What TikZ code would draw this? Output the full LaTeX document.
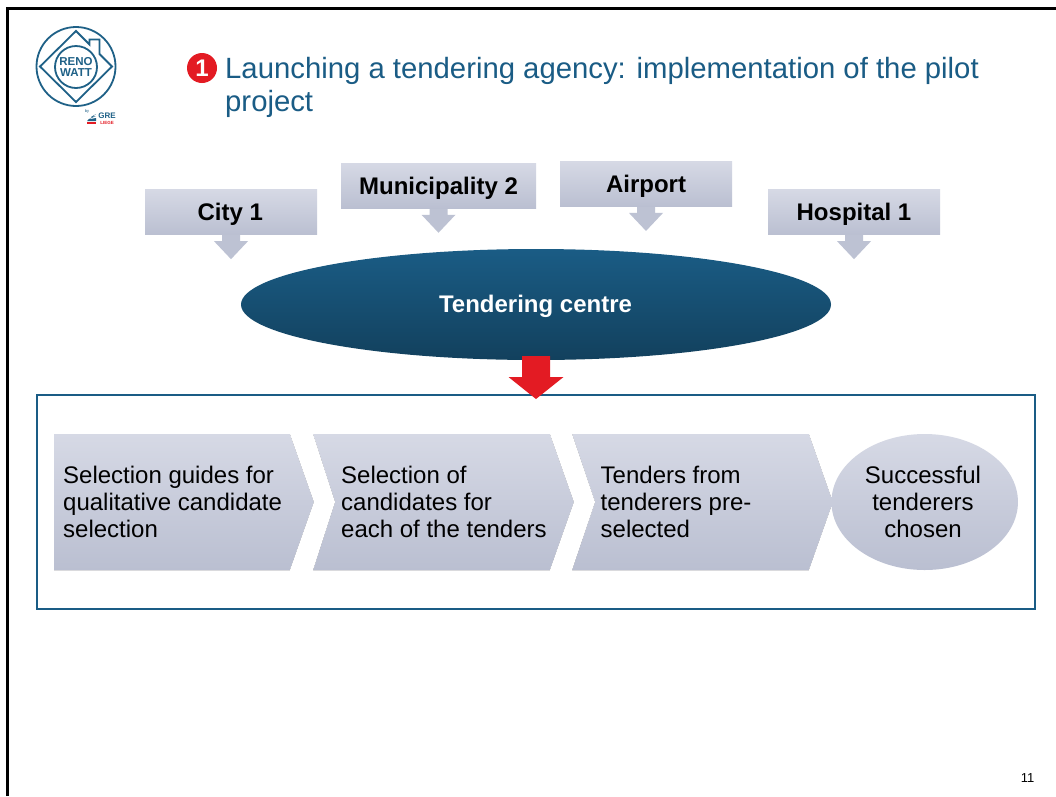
\documentclass[tikz,border=0pt]{standalone}
\usepackage{fontspec}
\setmainfont{Liberation Sans}
\usetikzlibrary{shapes.geometric,calc}
\definecolor{titleblue}{HTML}{1A5C85}
\definecolor{logoblue}{HTML}{1F6187}
\definecolor{redmark}{HTML}{E31B23}
\definecolor{greytop}{HTML}{D6D9E5}
\definecolor{greybot}{HTML}{BABFD1}
\tikzset{
  x=1pt,y=-1pt,
  softfill/.style={top color=greytop,bottom color=greybot,draw=none,shading angle=0},
  labelbox/.style={softfill,rectangle,inner sep=0pt,minimum width=172pt,minimum height=45.5pt},
  labeltext/.style={inner sep=0pt,font=\bfseries\fontsize{24}{27}\selectfont},
  softarrow/.style={fill=greybot!90!greytop,draw=none},
  bodytext/.style={inner sep=0pt,align=left,anchor=west,font=\fontsize{24}{27}\selectfont},
  logoline/.style={draw=logoblue,line width=1.8pt},
}
\begin{document}
\begin{tikzpicture}
\useasboundingbox (0,0) rectangle (1056,796);
\fill[white] (0,0) rectangle (1056,796);
% slide border
\draw[line width=2.6pt,black] (7.2,796) -- (7.2,8.6) -- (1056,8.6);
% logo
\node[circle,logoline,minimum size=79pt,inner sep=0pt] (logoouter) at (76,66.5) {};
\draw[logoline,line join=miter] (40,66.5) -- (76,31) -- (89.5,44.5) -- (89.5,39.5) -- (99.5,39.5) -- (99.5,54) -- (112,66.5) -- (76,102) -- cycle;
\node[circle,logoline,minimum size=42pt,inner sep=0pt] (logoinner) at (76,67) {};
\node[inner sep=0pt,align=center,text=logoblue,font=\bfseries\fontsize{11.5}{11.5}\selectfont] (logotext) at (76,67) {RENO\\WATT};
\node[inner sep=0pt,text=logoblue,font=\fontsize{4}{4}\selectfont] (logoby) at (87,111.5) {by};
\node[inner sep=0pt,text=logoblue,font=\bfseries\fontsize{8}{8}\selectfont] (logogre) at (107,116) {GRE};
\node[inner sep=0pt,text=redmark,font=\bfseries\fontsize{4.5}{5}\selectfont] (logoliege) at (107,122.5) {LIEGE};
\fill[redmark] (86.5,122) rectangle (96,124);
\fill[logoblue] (96,114) -- (91,117) -- (96,116) -- (88,119.5) -- (96,118) -- (96,121) -- (87,121) -- cycle;
% title
\node[circle,fill=redmark,minimum size=30pt,inner sep=0pt,text=white,font=\bfseries\fontsize{24}{24}\selectfont] (bullet) at (202,68) {1};
\node[inner sep=0pt,align=left,anchor=north west,text=titleblue,font=\fontsize{29.3}{33}\selectfont] (title) at (225,57.5) {Launching a tendering agency: implementation of the pilot\\project};
% partner boxes
\node[labelbox] (city) at (231,212.2) {};
\node[labelbox,minimum width=195pt] (muni) at (438.5,185.8) {};
\node[labelbox] (airport) at (646,184) {};
\node[labelbox] (hospital) at (854,212.2) {};
\node[labeltext] (citylabel) at (230.3,214.5) {City 1};
\node[labeltext] (munilabel) at (438.5,188.5) {Municipality 2};
\node[labeltext] (airportlabel) at (646,186.5) {Airport};
\node[labeltext] (hospitallabel) at (854,214.5) {Hospital 1};
\foreach \n in {city,muni,airport,hospital}{
  \fill[softarrow] ($(\n.south)+(-9,0)$) -- ++(0,6) -- ++(-8,0) -- ($(\n.south)+(0,24)$) -- ($(\n.south)+(17,6)$) -- ++(-8,0) -- ($(\n.south)+(9,0)$) -- cycle;
}
% centre
\node[ellipse,inner sep=0pt,minimum width=590pt,minimum height=111pt,top color=titleblue,bottom color=titleblue!70!black,draw=none] (centre) at (536,304.5) {};
\node[labeltext,text=white] (centrelabel) at (535.5,306.5) {Tendering centre};
% process frame
\node[draw=titleblue,line width=2pt,rectangle,inner sep=0pt,minimum width=998pt,minimum height=214pt] (frame) at (535.7,502) {};
% red arrow
\coordinate (redtip) at (536,399);
\fill[redmark] (522,356) -- (550,356) -- (550,377) -- (563.5,377) -- (redtip) -- (508.5,377) -- (522,377) -- cycle;
% chevrons
\fill[softfill] (54,434) -- (290,434) -- (314,502) -- (290,570) -- (54,570) -- cycle;
\fill[softfill] (313,434) -- (550,434) -- (574,502) -- (550,570) -- (313,570) -- (335,502) -- cycle;
\fill[softfill] (572,434) -- (809,434) -- (833,502) -- (809,570) -- (572,570) -- (595,502) -- cycle;
% clean gaps between the chevrons
\fill[white] (290,433) -- (313,433) -- (313,434) -- (335,502) -- (313,570) -- (313,571) -- (290,571) -- (290,570) -- (314,502) -- (290,434) -- cycle;
\fill[white] (550,433) -- (572,433) -- (572,434) -- (595,502) -- (572,570) -- (572,571) -- (550,571) -- (550,570) -- (574,502) -- (550,434) -- cycle;
\fill[white] (809,433) -- (836,433) -- (836,571) -- (809,571) -- (809,570) -- (833,502) -- (809,434) -- cycle;
\node[ellipse,softfill,inner sep=0pt,minimum width=186.5pt,minimum height=136pt] (done) at (924.7,502) {};
\node[bodytext] (step1) at (63,502) {Selection guides for\\qualitative candidate\\selection};
\node[bodytext] (step2) at (341,502) {Selection of\\candidates for\\each of the tenders};
\node[bodytext] (step3) at (600.5,502) {Tenders from\\tenderers pre-\\selected};
\node[bodytext,align=center,anchor=center] (step4) at (923,502) {Successful\\tenderers\\chosen};
% page number
\node[inner sep=0pt,font=\fontsize{13}{13}\selectfont] (page) at (1027.5,778) {11};
\end{tikzpicture}
\end{document}
